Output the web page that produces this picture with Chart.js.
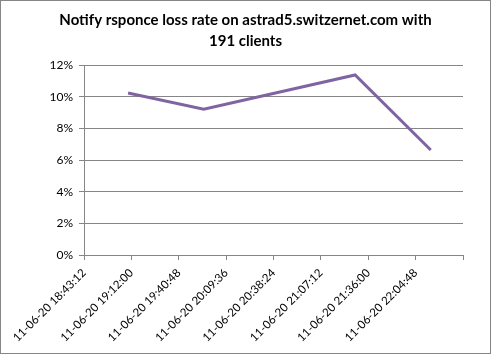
<!doctype html>
<html>

<head>
    <title>Notify rsponce loss rate</title>
    <script src="https://cdn.jsdelivr.net/npm/chart.js@4/dist/chart.umd.min.js"></script>
    <style>
        body {
            margin: 0;
            background: #fff;
        }
    </style>
</head>

<body>
    <canvas id="canvas" width="491" height="354"></canvas>
    <script>
        // sample times (hh:mm on 11-06-20) and loss rate
        var sampleTimes = ["19:10", "19:56", "21:28", "22:14"];
        var lossRate = [0.1023, 0.0921, 0.1137, 0.0663];
        var datePrefix = "11-06-20";
        var yTicks = [0, 0.02, 0.04, 0.06, 0.08, 0.10, 0.12];

        // x axis runs from 18:43:12 to 22:33:36 in steps of 28:48 (seconds)
        var xMin = 67392, xMax = 81216, xStep = 1728;

        function toSeconds(t) {
            var p = t.split(':');
            return (+p[0]) * 3600 + (+p[1]) * 60 + (p[2] ? +p[2] : 0);
        }

        function pad(n) {
            return (n < 10 ? '0' : '') + n;
        }

        function fmtTime(s) {
            s = Math.round(s);
            var h = Math.floor(s / 3600), m = Math.floor((s % 3600) / 60), sec = s % 60;
            return datePrefix + ' ' + pad(h) + ':' + pad(m) + ':' + pad(sec);
        }

        var points = sampleTimes.map(function (t, i) {
            return { x: toSeconds(t), y: lossRate[i] };
        });

        var frame = {
            id: 'frame',
            beforeDraw: function (chart) {
                var c = chart.ctx;
                c.save();
                c.fillStyle = '#fff';
                c.fillRect(0, 0, chart.width, chart.height);
                c.strokeStyle = '#868686';
                c.lineWidth = 1;
                c.strokeRect(0.5, 0.5, chart.width - 1, chart.height - 1);
                c.restore();
            }
        };

        var gray = '#868686';
        var ctx = document.getElementById('canvas').getContext('2d');
        new Chart(ctx, {
            type: 'line',
            data: {
                datasets: [{
                    data: points,
                    borderColor: '#8064A2',
                    borderWidth: 3,
                    pointRadius: 0,
                    tension: 0,
                    fill: false
                }]
            },
            options: {
                responsive: false,
                animation: false,
                layout: { padding: { left: 14, right: 14, top: 0, bottom: 0 } },
                plugins: {
                    legend: { display: false },
                    tooltip: { enabled: false },
                    title: {
                        display: true,
                        text: ['Notify rsponce loss rate on astrad5.switzernet.com with', '191 clients'],
                        color: '#000',
                        font: { family: 'Lato', size: 15, weight: 'bold', lineHeight: 1.4 },
                        padding: { top: 10, bottom: 13 }
                    }
                },
                scales: {
                    x: {
                        type: 'linear',
                        min: xMin,
                        max: xMax,
                        afterFit: function (s) { s.height = 99; },
                        afterBuildTicks: function (s) {
                            var t = [];
                            for (var v = xMin; v <= xMax; v += xStep) t.push({ value: v });
                            s.ticks = t;
                        },
                        grid: {
                            drawOnChartArea: false,
                            drawTicks: true,
                            tickLength: 5,
                            color: gray
                        },
                        border: { color: gray },
                        ticks: {
                            autoSkip: false,
                            maxRotation: 45,
                            minRotation: 45,
                            padding: 6,
                            color: '#000',
                            font: { family: 'Lato', size: 11.5 },
                            callback: function (v) {
                                return v >= xMax ? '' : fmtTime(v);
                            }
                        }
                    },
                    y: {
                        min: 0,
                        max: 0.12,
                        afterFit: function (s) { s.width = 70; },
                        afterBuildTicks: function (s) {
                            s.ticks = yTicks.map(function (v) { return { value: v }; });
                        },
                        grid: {
                            color: gray,
                            tickLength: 5
                        },
                        border: { color: gray },
                        ticks: {
                            padding: 6,
                            color: '#000',
                            font: { family: 'Lato', size: 12 },
                            callback: function (v) {
                                return Math.round(v * 100) + '%';
                            }
                        }
                    },
                    // empty right-hand axis, only reserves the gap beside the plot
                    yRight: {
                        position: 'right',
                        min: 0,
                        max: 0.12,
                        afterFit: function (s) { s.width = 14; },
                        grid: { display: false },
                        border: { display: false },
                        ticks: { display: false }
                    }
                }
            },
            plugins: [frame]
        });
    </script>
</body>

</html>
